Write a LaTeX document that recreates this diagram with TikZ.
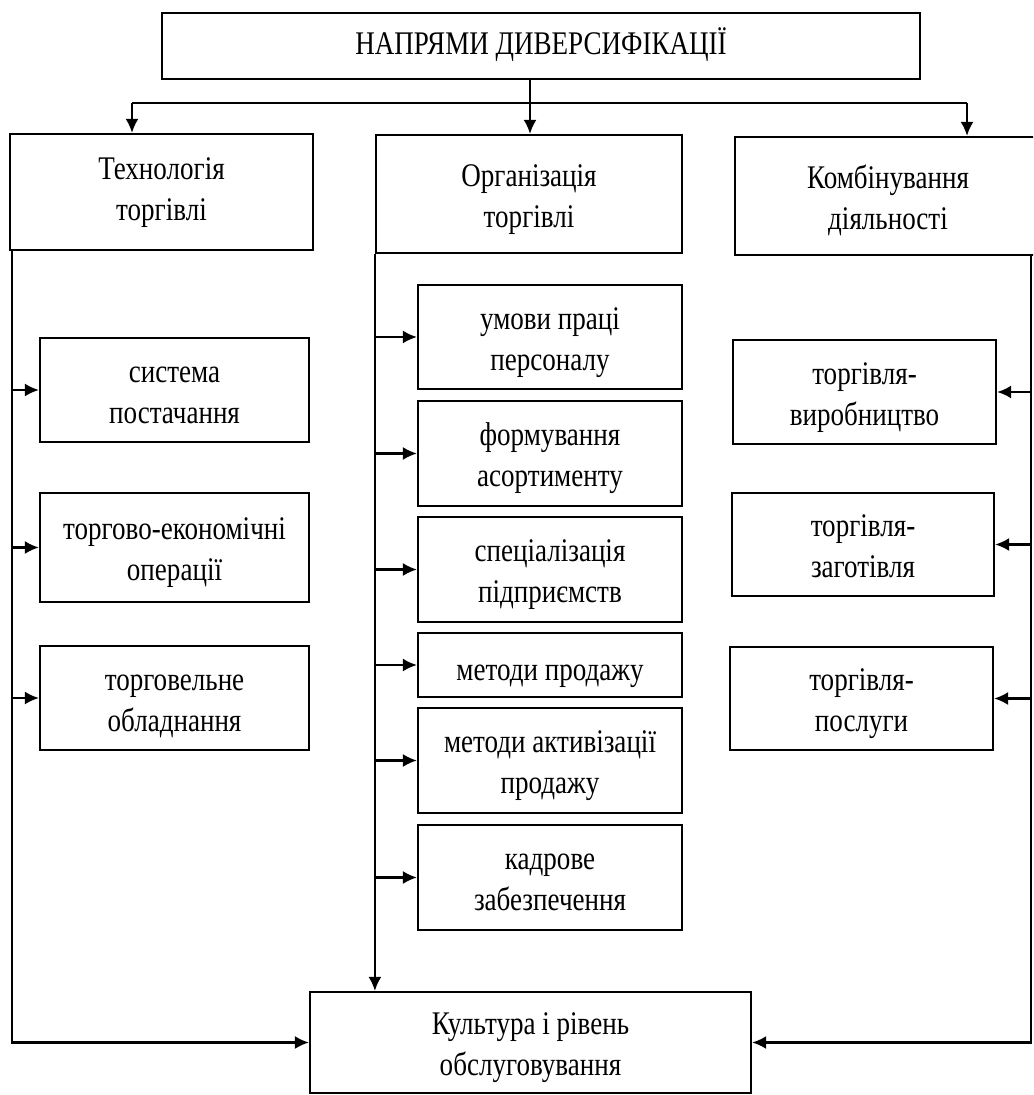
\documentclass[tikz,border=0pt]{standalone}
\usepackage{fontspec}
\setmainfont{Liberation Serif}[FakeStretch=0.82]
\usetikzlibrary{arrows.meta}
\newcommand\topstrut{\rule{0pt}{\dimexpr0.7\baselineskip+4.5pt\relax}}
\begin{document}
\begin{tikzpicture}[x=0.5pt,y=-0.5pt,
  box/.style={draw, line width=1.1pt, align=center, inner sep=0pt, fill=white,
              font=\fontsize{16.5}{20.5}\selectfont},
  sz/.style 2 args={minimum width=#1*0.5pt, minimum height=#2*0.5pt},
  arr/.style={line width=1.1pt, -{Latex[length=7pt,width=6.5pt]}},
  ln/.style={line width=1.1pt}]
\clip (0,0) rectangle (1033,1095);
\fill[white] (0,0) rectangle (1033,1095);

% top
\node[box, sz={758}{66}] (top) at (541,46) {\strut НАПРЯМИ ДИВЕРСИФІКАЦІЇ};
% level 1
\node[box, sz={303}{116}] (tech) at (161.5,192) {\strut Технологія\\\strut торгівлі};
\node[box, sz={306}{118}] (org)  at (529,194)   {\topstrut Організація\\\strut торгівлі};
\node[box, sz={306}{118}] (komb) at (888,196)   {\topstrut Комбінування\\\strut діяльності};
% left column
\node[box, sz={269}{104}] (s1) at (174.5,390)   {\topstrut система\\\strut постачання};
\node[box, sz={269}{109}] (s2) at (174.5,547.5) {\topstrut торгово-економічні\\\strut операції};
\node[box, sz={269}{104}] (s3) at (174.5,698)   {\topstrut торговельне\\\strut обладнання};
% middle column
\node[box, sz={264}{104}] (m1) at (550,337)   {\topstrut умови праці\\\strut персоналу};
\node[box, sz={264}{105}] (m2) at (550,453.5) {\topstrut формування\\\strut асортименту};
\node[box, sz={264}{105}] (m3) at (550,569.5) {\topstrut спеціалізація\\\strut підприємств};
\node[box, sz={264}{64}]  (m4) at (550,665)   {\topstrut методи продажу};
\node[box, sz={264}{105}] (m5) at (550,760.5) {\topstrut методи активізації\\\strut продажу};
\node[box, sz={264}{105}] (m6) at (550,877.5) {\topstrut кадрове\\\strut забезпечення};
% right column
\node[box, sz={263}{104}] (r1) at (864.5,392)   {\topstrut торгівля-\\\strut виробництво};
\node[box, sz={262}{103}] (r2) at (863,544.5)   {\topstrut торгівля-\\\strut заготівля};
\node[box, sz={263}{103}] (r3) at (861.5,698.5) {\topstrut торгівля-\\\strut послуги};
% bottom
\node[box, sz={441}{101}] (kult) at (530.5,1042.5) {\topstrut Культура і рівень\\\strut обслуговування};

% top distribution
\coordinate (jt) at (530,103);
\coordinate (jl) at (132,103);
\coordinate (jr) at (967,103);
\draw[ln] (jt |- top.south) -- (jt);
\draw[ln] (jl) -- (jr);
\draw[arr] (jl) -- (jl |- tech.north);
\draw[arr] (jt) -- (jt |- org.north);
\draw[arr] (jr) -- (jr |- komb.north);

% spines
\coordinate (L0) at (12,250);
\coordinate (R0) at (1031,255);
\draw[arr] (L0) |- (kult.west);
\draw[arr] (org.south west) -- (org.south west |- kult.north);
\draw[arr] (R0) |- (kult.east);

% branches
\foreach \n in {s1,s2,s3} \draw[arr] (L0 |- \n.west) -- (\n.west);
\foreach \n in {m1,m2,m3,m4,m5,m6} \draw[arr] (org.south west |- \n.west) -- (\n.west);
\foreach \n in {r1,r2,r3} \draw[arr] (R0 |- \n.east) -- (\n.east);
\end{tikzpicture}
\end{document}
